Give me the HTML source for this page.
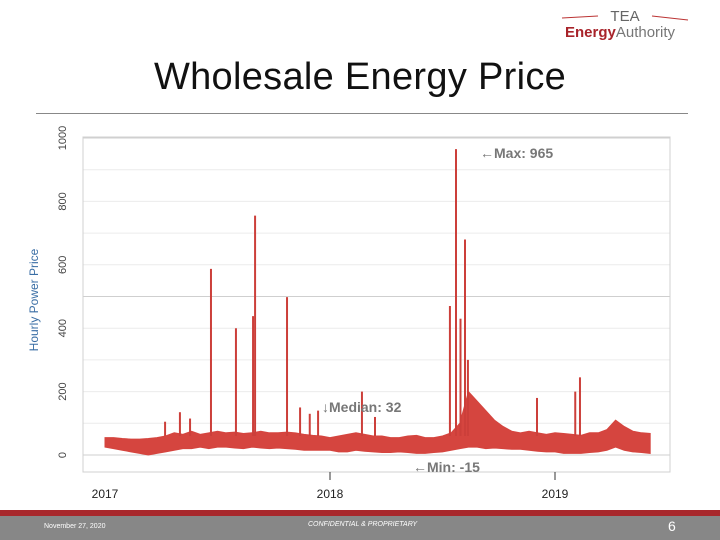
<!DOCTYPE html>
<html><head><meta charset="utf-8"><style>
body{margin:0;width:720px;height:540px;overflow:hidden;background:#fff;font-family:"Liberation Sans",sans-serif;position:relative}
</style></head><body>
<div style="position:absolute;left:560px;top:4px;width:130px;height:40px">
<svg width="130" height="40"><line x1="2" y1="14" x2="38" y2="12" stroke="#b33" stroke-width="1"/><line x1="92" y1="12" x2="128" y2="16" stroke="#b33" stroke-width="1"/>
<text x="65" y="17" text-anchor="middle" font-size="15" fill="#666" font-family="Liberation Sans">TEA</text>
<text x="5" y="33" font-size="15" font-weight="bold" fill="#a8232a" font-family="Liberation Sans">Energy<tspan font-weight="normal" fill="#777">Authority</tspan></text></svg></div>
<div style="position:absolute;left:0;top:56px;width:720px;text-align:center;font-size:38px;color:#111;letter-spacing:0.3px">Wholesale Energy Price</div>
<div style="position:absolute;left:36px;top:113px;width:652px;height:1px;background:#888"></div>
<svg id="chart" width="720" height="510" style="position:absolute;left:0;top:0"></svg>
<div style="position:absolute;left:0;top:510px;width:720px;height:6px;background:#a8282c"></div>
<div style="position:absolute;left:0;top:516px;width:720px;height:24px;background:#878787;color:#fff">
<span style="position:absolute;left:44px;top:7px;font-size:7px">November 27, 2020</span>
<span style="position:absolute;left:308px;top:5px;font-size:7px;font-style:italic">CONFIDENTIAL &amp; PROPRIETARY</span>
<span style="position:absolute;left:668px;top:2px;font-size:14px">6</span></div>
<script>
const highs=[55,55,52,50,50,52,55,60,70,65,75,65,70,75,70,72,68,70,75,70,70,72,70,65,62,60,
55,60,65,70,65,60,60,55,55,60,62,55,55,60,70,100,200,170,140,110,90,75,70,75,70,65,
70,68,65,62,70,70,80,110,90,75,70,68];
const lows=[25,20,15,10,5,0,5,10,15,20,20,25,20,25,25,22,20,25,22,20,22,20,18,15,15,15,
15,10,10,15,12,10,8,8,10,8,5,5,8,10,15,20,25,25,20,22,20,18,18,15,12,10,
10,5,5,5,8,10,15,25,15,10,8,5];
const spikeDates=[2017.471,2017.582,2017.658,2017.667,2017.809,2018.142,2018.560,2018.533,2018.600,2018.580,2018.920,2019.111,
2017.267,2017.333,2017.378,2017.867,2017.910,2017.947,2018.200,2018.613,2019.090];
const spikeValues=[587,400,438,755,498,200,965,470,680,430,180,245,
105,135,115,150,130,140,120,300,200];
const yTicks=[0,200,400,600,800,1000];
const xTicks=[2017,2018,2019];
const startDate=2017, step=1/26;
const svg=document.getElementById('chart');
const NS='http://www.w3.org/2000/svg';
const L=83,R=670,T=137,B=472;
const X=d=>105+(d-2017)*225;
const Y=v=>455-v*0.317;
function mk(t,a){const e=document.createElementNS(NS,t);for(const k in a)e.setAttribute(k,a[k]);svg.appendChild(e);return e;}
let g;
for(let v=0;v<=1000;v+=100){g=mk('line',{x1:L,x2:R,y1:Y(v),y2:Y(v),stroke:v%500==0?'#cfcfcf':'#ececec','stroke-width':1});

}
g=mk('rect',{x:L,y:T,width:R-L,height:B-T,fill:'none',stroke:'#d0d0d0'});


yTicks.forEach(v=>{const t=mk('text',{x:0,y:0,transform:`translate(66,${Y(v)}) rotate(-90)`,'text-anchor':'middle','font-size':11,fill:'#444'});t.textContent=v;

});
let t=mk('text',{x:0,y:0,transform:'translate(38,300) rotate(-90)','text-anchor':'middle','font-size':12,fill:'#3a6ea5'});t.textContent='Hourly Power Price';


xTicks.forEach(d=>{if(d>2017){const l=mk('line',{x1:X(d),x2:X(d),y1:B,y2:B+8,stroke:'#333'});

}
const tx=mk('text',{x:X(d),y:498,'text-anchor':'middle','font-size':12,fill:'#222'});tx.textContent=d;

});
let pts=[];
highs.forEach((v,i)=>pts.push(X(startDate+i*step)+','+Y(v)));
for(let i=lows.length-1;i>=0;i--)pts.push(X(startDate+i*step)+','+Y(lows[i]));
g=mk('polygon',{points:pts.join(' '),fill:'#d5453f',stroke:'#d5453f','stroke-width':1});


spikeDates.forEach((d,i)=>{const l=mk('line',{x1:X(d),x2:X(d),y1:Y(60),y2:Y(spikeValues[i]),stroke:'#cc3f3a','stroke-width':2});

});
[['←Max: 965',480,158,'max-annotation'],['↓Median: 32',322,412,'median-annotation'],['←Min: -15',413,472,'min-annotation']].forEach(a=>{
const e=mk('text',{x:a[1],y:a[2],'font-size':14,'font-weight':'bold',fill:'#777'});e.textContent=a[0];

});
</script>
</body></html>
